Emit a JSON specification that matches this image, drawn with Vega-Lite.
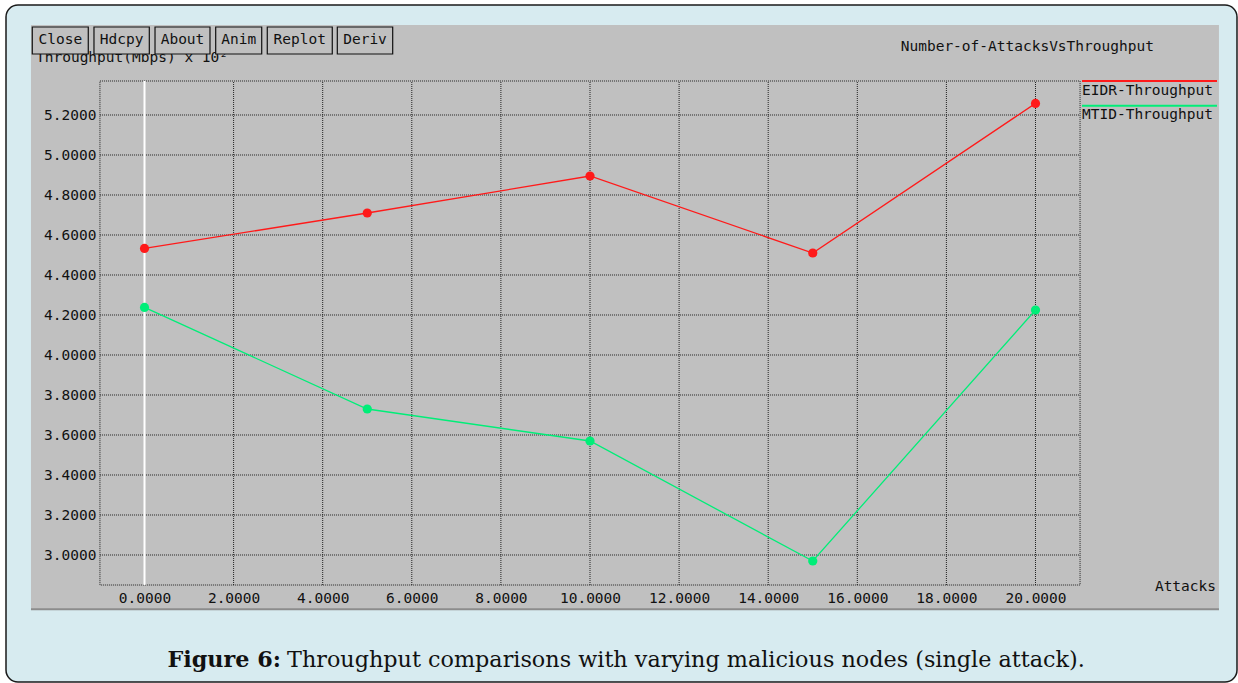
{
  "$schema": "https://vega.github.io/schema/vega-lite/v6.json",
  "autosize": "none",
  "padding": {"left": 6, "top": 5, "right": 1, "bottom": 1},
  "width": 1231,
  "height": 677,
  "background": "#ffffff",
  "config": {
    "view": {"fill": "#d7ebf0", "stroke": "#1a1a1a", "strokeWidth": 1.5, "cornerRadius": 12},
    "text": {"font": "DejaVu Sans Mono", "fontSize": 14.5, "color": "#111111"}
  },
  "data": {"values": [{"note": "decoration"}]},
  "datasets": {
    "series": [
      {"attacks": 0, "throughput": 4.533, "series": "EIDR-Throughput"},
      {"attacks": 5, "throughput": 4.71, "series": "EIDR-Throughput"},
      {"attacks": 10, "throughput": 4.895, "series": "EIDR-Throughput"},
      {"attacks": 15, "throughput": 4.51, "series": "EIDR-Throughput"},
      {"attacks": 20, "throughput": 5.258, "series": "EIDR-Throughput"},
      {"attacks": 0, "throughput": 4.238, "series": "MTID-Throughput"},
      {"attacks": 5, "throughput": 3.73, "series": "MTID-Throughput"},
      {"attacks": 10, "throughput": 3.57, "series": "MTID-Throughput"},
      {"attacks": 15, "throughput": 2.97, "series": "MTID-Throughput"},
      {"attacks": 20, "throughput": 4.225, "series": "MTID-Throughput"}
    ],
    "xgrid": [{"v": 2}, {"v": 4}, {"v": 6}, {"v": 8}, {"v": 10}, {"v": 12}, {"v": 14}, {"v": 16}, {"v": 18}, {"v": 20}],
    "ygrid": [{"v": 3.0}, {"v": 3.2}, {"v": 3.4}, {"v": 3.6}, {"v": 3.8}, {"v": 4.0}, {"v": 4.2}, {"v": 4.4}, {"v": 4.6}, {"v": 4.8}, {"v": 5.0}, {"v": 5.2}]
  },
  "layer": [
    {
      "mark": {"type": "rect", "fill": "#c0c0c0"},
      "encoding": {
        "x": {"datum": -2.548, "type": "quantitative", "scale": {"domain": [-3.1089, 24.523], "nice": false, "zero": false}},
        "x2": {"datum": 24.118},
        "y": {"datum": 5.65, "type": "quantitative", "scale": {"domain": [2.365, 5.75], "nice": false, "zero": false}},
        "y2": {"datum": 2.725}
      }
    },
    {
      "mark": {"type": "rule", "stroke": "#8c8c8c", "strokeWidth": 2},
      "encoding": {
        "x": {"datum": -2.548, "type": "quantitative"},
        "x2": {"datum": 24.118},
        "y": {"datum": 2.729, "type": "quantitative"}
      }
    },
    {
      "mark": {"type": "text", "align": "left", "baseline": "alphabetic"},
      "encoding": {
        "x": {"datum": -2.436, "type": "quantitative"},
        "y": {"datum": 5.465, "type": "quantitative"},
        "text": {"value": "Throughput(Mbps) x 10²"}
      }
    },
    {"mark": {"type": "rect", "fill": "#c0c0c0", "stroke": "#111111", "strokeWidth": 1.2},
     "encoding": {"x": {"datum": -2.519, "type": "quantitative"}, "x2": {"datum": -1.262}, "y": {"datum": 5.64, "type": "quantitative"}, "y2": {"datum": 5.505}}},
    {"mark": {"type": "text", "align": "center", "baseline": "middle"},
     "encoding": {"x": {"datum": -1.89, "type": "quantitative"}, "y": {"datum": 5.575, "type": "quantitative"}, "text": {"value": "Close"}}},
    {"mark": {"type": "rect", "fill": "#c0c0c0", "stroke": "#111111", "strokeWidth": 1.2},
     "encoding": {"x": {"datum": -1.134, "type": "quantitative"}, "x2": {"datum": 0.108}, "y": {"datum": 5.64, "type": "quantitative"}, "y2": {"datum": 5.505}}},
    {"mark": {"type": "text", "align": "center", "baseline": "middle"},
     "encoding": {"x": {"datum": -0.513, "type": "quantitative"}, "y": {"datum": 5.575, "type": "quantitative"}, "text": {"value": "Hdcpy"}}},
    {"mark": {"type": "rect", "fill": "#c0c0c0", "stroke": "#111111", "strokeWidth": 1.2},
     "encoding": {"x": {"datum": 0.236, "type": "quantitative"}, "x2": {"datum": 1.47}, "y": {"datum": 5.64, "type": "quantitative"}, "y2": {"datum": 5.505}}},
    {"mark": {"type": "text", "align": "center", "baseline": "middle"},
     "encoding": {"x": {"datum": 0.853, "type": "quantitative"}, "y": {"datum": 5.575, "type": "quantitative"}, "text": {"value": "About"}}},
    {"mark": {"type": "rect", "fill": "#c0c0c0", "stroke": "#111111", "strokeWidth": 1.2},
     "encoding": {"x": {"datum": 1.598, "type": "quantitative"}, "x2": {"datum": 2.631}, "y": {"datum": 5.64, "type": "quantitative"}, "y2": {"datum": 5.505}}},
    {"mark": {"type": "text", "align": "center", "baseline": "middle"},
     "encoding": {"x": {"datum": 2.114, "type": "quantitative"}, "y": {"datum": 5.575, "type": "quantitative"}, "text": {"value": "Anim"}}},
    {"mark": {"type": "rect", "fill": "#c0c0c0", "stroke": "#111111", "strokeWidth": 1.2},
     "encoding": {"x": {"datum": 2.756, "type": "quantitative"}, "x2": {"datum": 4.215}, "y": {"datum": 5.64, "type": "quantitative"}, "y2": {"datum": 5.505}}},
    {"mark": {"type": "text", "align": "center", "baseline": "middle"},
     "encoding": {"x": {"datum": 3.486, "type": "quantitative"}, "y": {"datum": 5.575, "type": "quantitative"}, "text": {"value": "Replot"}}},
    {"mark": {"type": "rect", "fill": "#c0c0c0", "stroke": "#111111", "strokeWidth": 1.2},
     "encoding": {"x": {"datum": 4.328, "type": "quantitative"}, "x2": {"datum": 5.571}, "y": {"datum": 5.64, "type": "quantitative"}, "y2": {"datum": 5.505}}},
    {"mark": {"type": "text", "align": "center", "baseline": "middle"},
     "encoding": {"x": {"datum": 4.95, "type": "quantitative"}, "y": {"datum": 5.575, "type": "quantitative"}, "text": {"value": "Deriv"}}},
    {
      "mark": {"type": "text", "align": "left", "baseline": "middle"},
      "encoding": {
        "x": {"datum": 16.975, "type": "quantitative"},
        "y": {"datum": 5.5415, "type": "quantitative"},
        "text": {"value": "Number-of-AttacksVsThroughput"}
      }
    },
    {
      "data": {"name": "xgrid"},
      "mark": {"type": "rule", "stroke": "#222222", "strokeWidth": 1, "strokeDash": [1, 1]},
      "encoding": {
        "x": {"field": "v", "type": "quantitative"},
        "y": {"datum": 2.85, "type": "quantitative"},
        "y2": {"datum": 5.37}
      }
    },
    {
      "data": {"name": "ygrid"},
      "mark": {"type": "rule", "stroke": "#222222", "strokeWidth": 1, "strokeDash": [1, 1]},
      "encoding": {
        "y": {"field": "v", "type": "quantitative"},
        "x": {"datum": -1, "type": "quantitative"},
        "x2": {"datum": 21}
      }
    },
    {
      "mark": {"type": "rect", "fill": null, "stroke": "#222222", "strokeWidth": 1, "strokeDash": [1, 1]},
      "encoding": {
        "x": {"datum": -1, "type": "quantitative"},
        "x2": {"datum": 21},
        "y": {"datum": 2.85, "type": "quantitative"},
        "y2": {"datum": 5.37}
      }
    },
    {
      "mark": {"type": "rule", "stroke": "#ffffff", "strokeWidth": 2},
      "encoding": {
        "x": {"datum": 0, "type": "quantitative"},
        "y": {"datum": 2.85, "type": "quantitative"},
        "y2": {"datum": 5.37}
      }
    },
    {
      "data": {"name": "series"},
      "mark": {"type": "line", "strokeWidth": 1.3},
      "encoding": {
        "x": {"field": "attacks", "type": "quantitative",
              "axis": {"values": [0, 2, 4, 6, 8, 10, 12, 14, 16, 18, 20], "format": ".4f", "title": null, "orient": "bottom", "offset": -97, "zindex": 1,
                       "domain": false, "ticks": false, "grid": false, "labelPadding": 6, "labelFont": "DejaVu Sans Mono", "labelFontSize": 14.5, "labelColor": "#111111"}},
        "y": {"field": "throughput", "type": "quantitative",
              "axis": {"values": [3.0, 3.2, 3.4, 3.6, 3.8, 4.0, 4.2, 4.4, 4.6, 4.8, 5.0, 5.2], "format": ".4f", "title": null, "orient": "left", "offset": -94, "zindex": 1,
                       "domain": false, "ticks": false, "grid": false, "labelPadding": 4, "labelFont": "DejaVu Sans Mono", "labelFontSize": 14.5, "labelColor": "#111111"}},
        "color": {"field": "series", "type": "nominal", "legend": null,
                  "scale": {"domain": ["EIDR-Throughput", "MTID-Throughput"], "range": ["#ff1a1a", "#00ee78"]}}
      }
    },
    {
      "data": {"name": "series"},
      "mark": {"type": "circle", "size": 85, "opacity": 1},
      "encoding": {
        "x": {"field": "attacks", "type": "quantitative"},
        "y": {"field": "throughput", "type": "quantitative"},
        "color": {"field": "series", "type": "nominal", "legend": null}
      }
    },
    {
      "mark": {"type": "rule", "stroke": "#ff1a1a", "strokeWidth": 2},
      "encoding": {
        "x": {"datum": 21.044, "type": "quantitative"},
        "x2": {"datum": 24.074},
        "y": {"datum": 5.37, "type": "quantitative"}
      }
    },
    {
      "mark": {"type": "rule", "stroke": "#00ee78", "strokeWidth": 2},
      "encoding": {
        "x": {"datum": 21.044, "type": "quantitative"},
        "x2": {"datum": 24.074},
        "y": {"datum": 5.2465, "type": "quantitative"}
      }
    },
    {
      "mark": {"type": "text", "align": "left", "baseline": "middle"},
      "encoding": {
        "x": {"datum": 21.044, "type": "quantitative"},
        "y": {"datum": 5.3215, "type": "quantitative"},
        "text": {"value": "EIDR-Throughput"}
      }
    },
    {
      "mark": {"type": "text", "align": "left", "baseline": "middle"},
      "encoding": {
        "x": {"datum": 21.044, "type": "quantitative"},
        "y": {"datum": 5.2, "type": "quantitative"},
        "text": {"value": "MTID-Throughput"}
      }
    },
    {
      "mark": {"type": "text", "align": "right", "baseline": "middle"},
      "encoding": {
        "x": {"datum": 24.052, "type": "quantitative"},
        "y": {"datum": 2.84, "type": "quantitative"},
        "text": {"value": "Attacks"}
      }
    },
    {
      "mark": {"type": "text", "align": "right", "baseline": "middle", "font": "DejaVu Serif", "fontSize": 22.3, "fontWeight": "bold", "color": "#111111"},
      "encoding": {
        "x": {"datum": 3.064, "type": "quantitative"},
        "y": {"datum": 2.475, "type": "quantitative"},
        "text": {"value": "Figure 6:"}
      }
    },
    {
      "mark": {"type": "text", "align": "left", "baseline": "middle", "font": "DejaVu Serif", "fontSize": 22.3, "color": "#111111"},
      "encoding": {
        "x": {"datum": 3.199, "type": "quantitative"},
        "y": {"datum": 2.475, "type": "quantitative"},
        "text": {"value": "Throughput comparisons with varying malicious nodes (single attack)."}
      }
    }
  ]
}
